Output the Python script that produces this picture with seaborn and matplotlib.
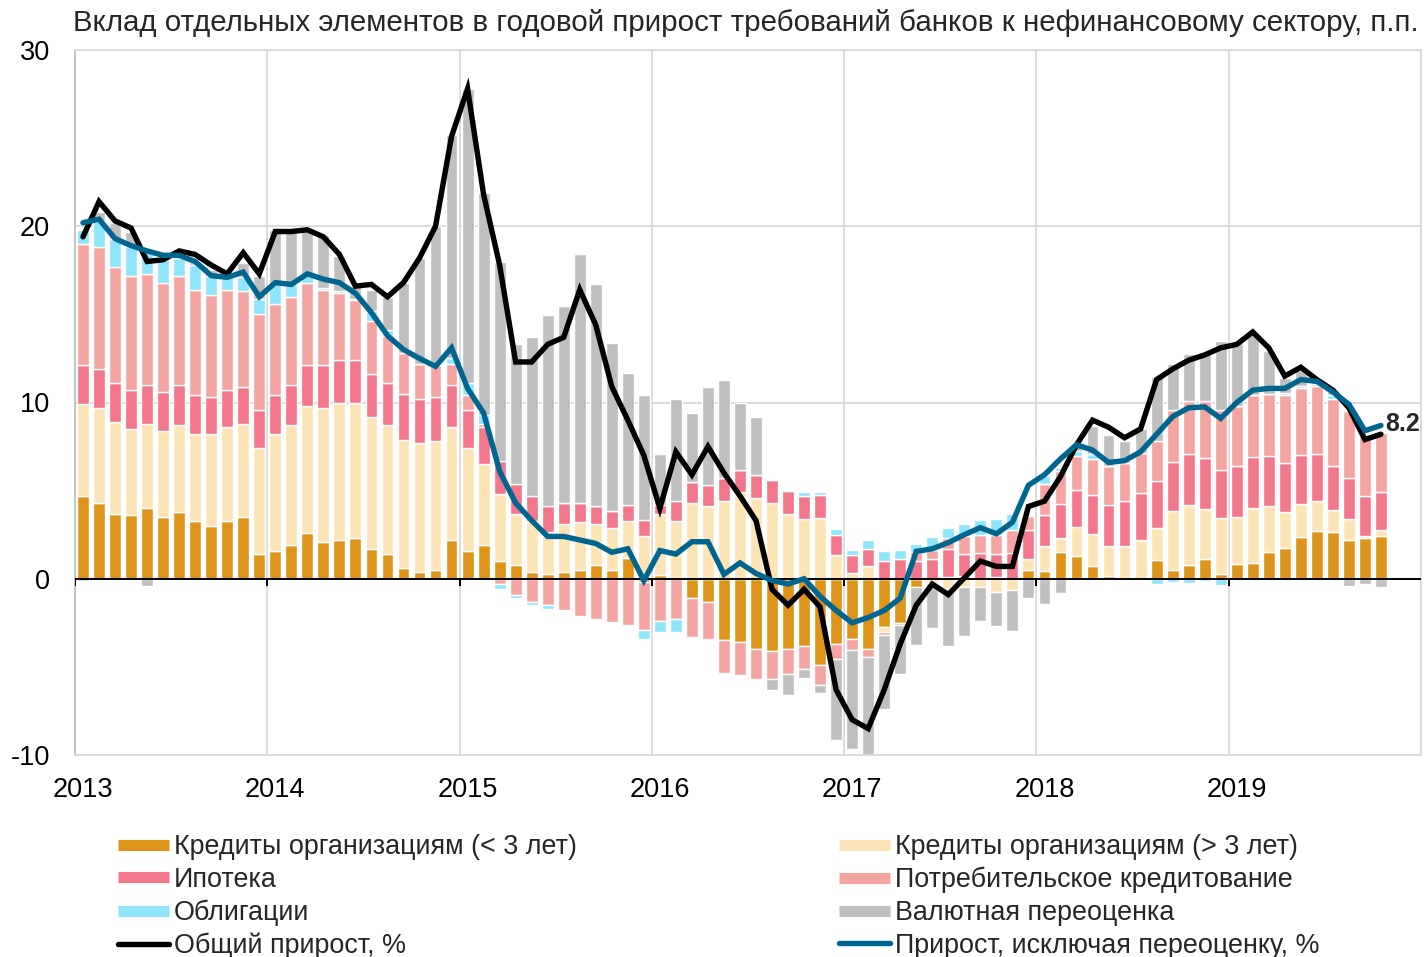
import numpy as np
import matplotlib
matplotlib.use("Agg")
import matplotlib.pyplot as plt
import seaborn as sns
from matplotlib.lines import Line2D

sns.set_theme(style="white")
plt.rcParams['font.family'] = ['Liberation Sans', 'DejaVu Sans']

title = "Вклад отдельных элементов в годовой прирост требований банков к нефинансовому сектору, п.п."
years = ['2013', '2014', '2015', '2016', '2017', '2018', '2019']

labels = ["Кредиты организациям (< 3 лет)", "Кредиты организациям (> 3 лет)",
          "Ипотека", "Потребительское кредитование",
          "Облигации", "Валютная переоценка",
          "Общий прирост, %", "Прирост, исключая переоценку, %"]

# monthly contributions, Jan 2013 .. Oct 2019
short_loans = [4.7, 4.3, 3.7, 3.6, 4.0, 3.5, 3.8, 3.3, 3.0, 3.3, 3.5, 1.4,
               1.6, 1.9, 2.6, 2.1, 2.2, 2.3, 1.7, 1.4, 0.6, 0.4, 0.5, 2.2,
               1.6, 1.9, 1.0, 0.8, 0.4, 0.25, 0.4, 0.5, 0.8, 0.5, 1.2, -0.2,
               0.2, 0.0, -1.1, -1.3, -3.45, -3.6, -4.0, -4.1, -4.0, -3.8, -4.9, -3.7,
               -3.4, -4.0, -2.75, -2.5, -0.45, 0.0, 0.1, 0.13, 0.0, 0.1, 0.0, 0.47,
               0.42, 1.5, 1.3, 0.7, 0.17, 0.0, 0.0, 1.04, 0.47, 0.8, 1.12, 0.28,
               0.85, 0.89, 1.5, 1.74, 2.37, 2.73, 2.63, 2.18, 2.31, 2.41]
long_loans = [5.2, 5.4, 5.2, 4.9, 4.8, 4.9, 4.9, 4.9, 5.2, 5.3, 5.3, 6.0,
              6.6, 6.8, 7.2, 7.6, 7.8, 7.7, 7.5, 7.3, 7.3, 7.3, 7.3, 6.4,
              5.8, 4.6, 3.8, 2.9, 2.9, 2.4, 2.7, 2.7, 2.3, 2.4, 2.1, 2.4,
              3.5, 3.3, 4.3, 4.1, 4.4, 4.9, 4.6, 4.3, 3.7, 3.4, 3.45, 1.35,
              0.3, 0.7, -0.25, 0.0, 0.0, -0.25, -0.6, -0.44, -0.47, -0.76, -0.63, 0.67,
              1.42, 0.81, 1.63, 1.86, 1.67, 1.84, 2.22, 1.84, 3.36, 3.4, 2.84, 3.17,
              2.63, 3.13, 2.61, 2.03, 1.89, 1.66, 1.25, 1.21, 0.1, 0.34]
mortgage = [2.2, 2.2, 2.2, 2.2, 2.2, 2.2, 2.3, 2.2, 2.1, 2.1, 2.1, 2.2,
            2.2, 2.3, 2.3, 2.4, 2.4, 2.4, 2.4, 2.4, 2.6, 2.5, 2.5, 2.4,
            2.2, 2.1, 1.9, 1.7, 1.4, 1.5, 1.2, 1.1, 1.0, 0.95, 0.9, 0.95,
            0.5, 1.1, 1.2, 1.2, 1.3, 1.25, 1.3, 1.3, 1.3, 1.3, 1.3, 1.15,
            1.05, 1.0, 1.0, 1.1, 1.0, 1.1, 1.6, 1.3, 1.46, 1.31, 1.46, 1.61,
            1.76, 1.93, 2.13, 2.21, 2.36, 2.55, 2.65, 2.69, 2.78, 2.85, 2.9, 2.71,
            2.9, 2.89, 2.84, 2.8, 2.75, 2.66, 2.5, 2.33, 2.27, 2.16]
consumer = [6.9, 6.9, 6.6, 6.5, 6.3, 6.2, 6.2, 6.0, 5.8, 5.7, 5.4, 5.4,
            5.2, 5.0, 4.7, 4.3, 3.8, 3.4, 3.0, 2.7, 2.3, 2.0, 1.8, 1.2,
            0.8, 0.2, -0.3, -0.9, -1.3, -1.5, -1.8, -2.1, -2.3, -2.45, -2.6, -2.7,
            -2.4, -2.3, -2.2, -2.1, -1.9, -1.85, -1.7, -1.6, -1.4, -1.3, -1.1, -0.85,
            -0.65, -0.45, -0.2, -0.1, 0.5, 0.55, 0.6, 1.0, 1.0, 1.1, 1.3, 0.79,
            1.78, 1.86, 1.88, 2.03, 2.18, 2.18, 2.27, 2.23, 2.99, 3.03, 3.22, 3.4,
            3.41, 3.49, 3.56, 3.83, 3.82, 3.88, 3.83, 3.79, 3.41, 3.37]
bonds = [0.8, 1.5, 1.6, 1.7, 1.2, 1.4, 1.0, 1.4, 1.1, 0.7, 0.8, 0.9,
         1.1, 0.7, 0.4, 0.1, 0.1, 0.1, 0.6, 0.3, 0.0, 0.0, 0.0, 0.3,
         0.7, 0.5, -0.3, -0.2, -0.2, -0.2, 0.0, 0.0, 0.0, 0.0, 0.0, -0.5,
         -0.6, -0.7, 0.0, 0.0, 0.0, 0.0, 0.0, 0.0, 0.0, 0.25, 0.2, 0.3,
         0.3, 0.5, 0.55, 0.55, 0.5, 0.7, 0.6, 0.7, 0.9, 0.9, 0.9, 0.0,
         0.43, 0.2, 0.28, 0.25, 0.0, 0.0, 0.0, -0.28, -0.2, -0.25, -0.1, -0.38,
         0.0, 0.0, 0.0, 0.15, 0.1, 0.1, 0.2, 0.0, 0.0, 0.0]
fx_reval = [-0.1, 0.5, 0.9, 0.8, -0.4, 0.0, 0.4, 0.2, 0.3, 0.2, 0.8, 1.3,
            3.1, 3.2, 2.7, 3.0, 2.0, 0.7, 1.2, 1.9, 4.0, 6.0, 7.9, 12.7,
            16.7, 12.6, 11.3, 7.9, 9.0, 10.8, 11.2, 14.1, 12.6, 9.5, 7.5, 7.1,
            2.9, 5.8, 3.9, 5.6, 5.6, 3.8, 3.3, -0.6, -1.2, -0.55, -0.5, -4.6,
            -5.6, -5.7, -4.2, -2.8, -3.3, -2.55, -3.2, -2.8, -1.9, -1.9, -2.35, -1.1,
            -1.42, -0.81, 0.5, 1.61, 1.8, 1.23, 1.33, 3.66, 2.56, 2.7, 2.74, 3.92,
            3.56, 3.5, 2.4, 0.85, 0.9, 0.2, 0.3, -0.4, -0.3, -0.45]
total_growth = [19.4, 21.4, 20.3, 19.9, 18.0, 18.1, 18.6, 18.4, 17.8, 17.3, 18.5, 17.3,
                19.7, 19.7, 19.8, 19.4, 18.4, 16.6, 16.7, 16.0, 16.8, 18.2, 20.0, 25.1,
                27.8, 21.8, 17.8, 12.3, 12.3, 13.3, 13.7, 16.4, 14.4, 10.9, 9.0, 7.0,
                4.0, 7.2, 5.9, 7.5, 6.0, 4.7, 3.3, -0.6, -1.5, -0.6, -1.6, -6.3,
                -8.0, -8.5, -6.3, -3.7, -1.5, -0.3, -0.9, 0.05, 1.0, 0.7, 0.7, 4.1,
                4.4, 5.8, 7.6, 9.0, 8.6, 8.0, 8.5, 11.3, 11.9, 12.4, 12.7, 13.1,
                13.3, 14.0, 13.1, 11.5, 12.0, 11.3, 10.7, 9.7, 7.9, 8.2]
growth_ex_reval = [20.2, 20.4, 19.3, 18.9, 18.6, 18.35, 18.35, 18.0, 17.2, 17.1, 17.4, 16.0,
                   16.8, 16.7, 17.3, 17.0, 16.8, 16.2, 15.1, 13.8, 13.0, 12.5, 12.05, 13.1,
                   10.8, 9.4, 6.1, 4.3, 3.3, 2.4, 2.4, 2.2, 2.0, 1.5, 1.7, -0.1,
                   1.6, 1.4, 2.1, 2.1, 0.25, 0.9, 0.3, -0.1, -0.3, 0.0, -1.0, -1.8,
                   -2.5, -2.2, -1.8, -1.1, 1.55, 1.7, 2.05, 2.5, 2.9, 2.55, 3.2, 5.3,
                   5.9, 6.8, 7.6, 7.3, 6.6, 6.7, 7.2, 8.2, 9.2, 9.7, 9.75, 9.1,
                   10.0, 10.7, 10.8, 10.8, 11.3, 11.2, 10.6, 9.9, 8.4, 8.7]

colors = ["#DE9419", "#FDE4B6", "#F2778A", "#F5A5A1", "#8FE5FB", "#BFBFBF"]
line_black = "#000000"
line_blue = "#006690"

W, H = 1426, 957
fig = plt.figure(figsize=(W / 100, H / 100), dpi=100)
ax = fig.add_axes([75 / W, 1 - 755 / H, (1421 - 75) / W, (755 - 50) / H])

n = len(short_loans)
x = np.arange(n)
pos_b = np.zeros(n)
neg_b = np.zeros(n)
for vals, col in zip([short_loans, long_loans, mortgage, consumer, bonds, fx_reval], colors):
    v = np.asarray(vals, dtype=float)
    bottom = np.where(v >= 0, pos_b, neg_b)
    ax.bar(x, v, bottom=bottom, width=0.74, color=col, edgecolor="white",
           linewidth=1.0, zorder=2)
    pos_b += np.where(v > 0, v, 0)
    neg_b += np.where(v < 0, v, 0)

ax.axhline(0, color="black", lw=1.4, zorder=3)

sns.lineplot(x=x, y=total_growth, ax=ax, color=line_black, lw=3.9, zorder=4,
             solid_joinstyle="miter")
sns.lineplot(x=x, y=growth_ex_reval, ax=ax, color=line_blue, lw=3.9, zorder=5,
             solid_joinstyle="miter")

last = n - 1
ax.text(last + 0.3, total_growth[-1] + 0.6, f"{total_growth[-1]:.1f}", fontsize=18,
        fontweight="bold", ha="left", va="center", zorder=6)

nslots = len(years) * 12
ax.set_xlim(-0.5, nslots - 0.5)
ax.set_ylim(-10, 30)
ax.set_yticks([-10, 0, 10, 20, 30])
ax.set_yticklabels(["-10", "0", "10", "20", "30"])
ax.set_xticks([12 * k for k in range(len(years))])
ax.set_xticklabels(years)
ax.set_xticks([12 * k - 0.5 for k in range(1, len(years) + 1)], minor=True)
ax.grid(False)
ax.yaxis.grid(True, color="#D9D9D9", lw=1.3, zorder=0)
ax.xaxis.grid(True, which="minor", color="#D9D9D9", lw=1.3, zorder=0)
ax.tick_params(axis="both", which="both", length=0, labelsize=19.5, colors="black")
ax.tick_params(axis="y", pad=18)
ax.tick_params(axis="x", pad=15.5)
for s in ax.spines.values():
    s.set_color("#D9D9D9")
    s.set_linewidth(1.3)
ax.spines["left"].set_color("#BFBFBF")
ax.vlines([12 * k - 0.5 for k in range(len(years))], -0.4, 0, color="black", lw=1.4, zorder=3)

fig.text(73 / W, 1 - 23 / H, title, fontsize=21.25, ha="left", va="center")

handles = [
    Line2D([], [], color=colors[0], lw=8, solid_capstyle="butt"),
    Line2D([], [], color=colors[2], lw=8, solid_capstyle="butt"),
    Line2D([], [], color=colors[4], lw=8, solid_capstyle="butt"),
    Line2D([], [], color=line_black, lw=3.9),
    Line2D([], [], color=colors[1], lw=8, solid_capstyle="butt"),
    Line2D([], [], color=colors[3], lw=8, solid_capstyle="butt"),
    Line2D([], [], color=colors[5], lw=8, solid_capstyle="butt"),
    Line2D([], [], color=line_blue, lw=3.9),
]
leg_labels = [labels[0], labels[2], labels[4], labels[6],
              labels[1], labels[3], labels[5], labels[7]]
fig.legend(handles, leg_labels, ncol=2, loc="upper left",
           bbox_to_anchor=(118 / W, 1 - 834 / H), frameon=False, fontsize=19.35,
           handlelength=1.9, handletextpad=0.19, columnspacing=9.75,
           labelspacing=0.25, borderpad=0, borderaxespad=0)

fig.savefig("out.png", dpi=100)
